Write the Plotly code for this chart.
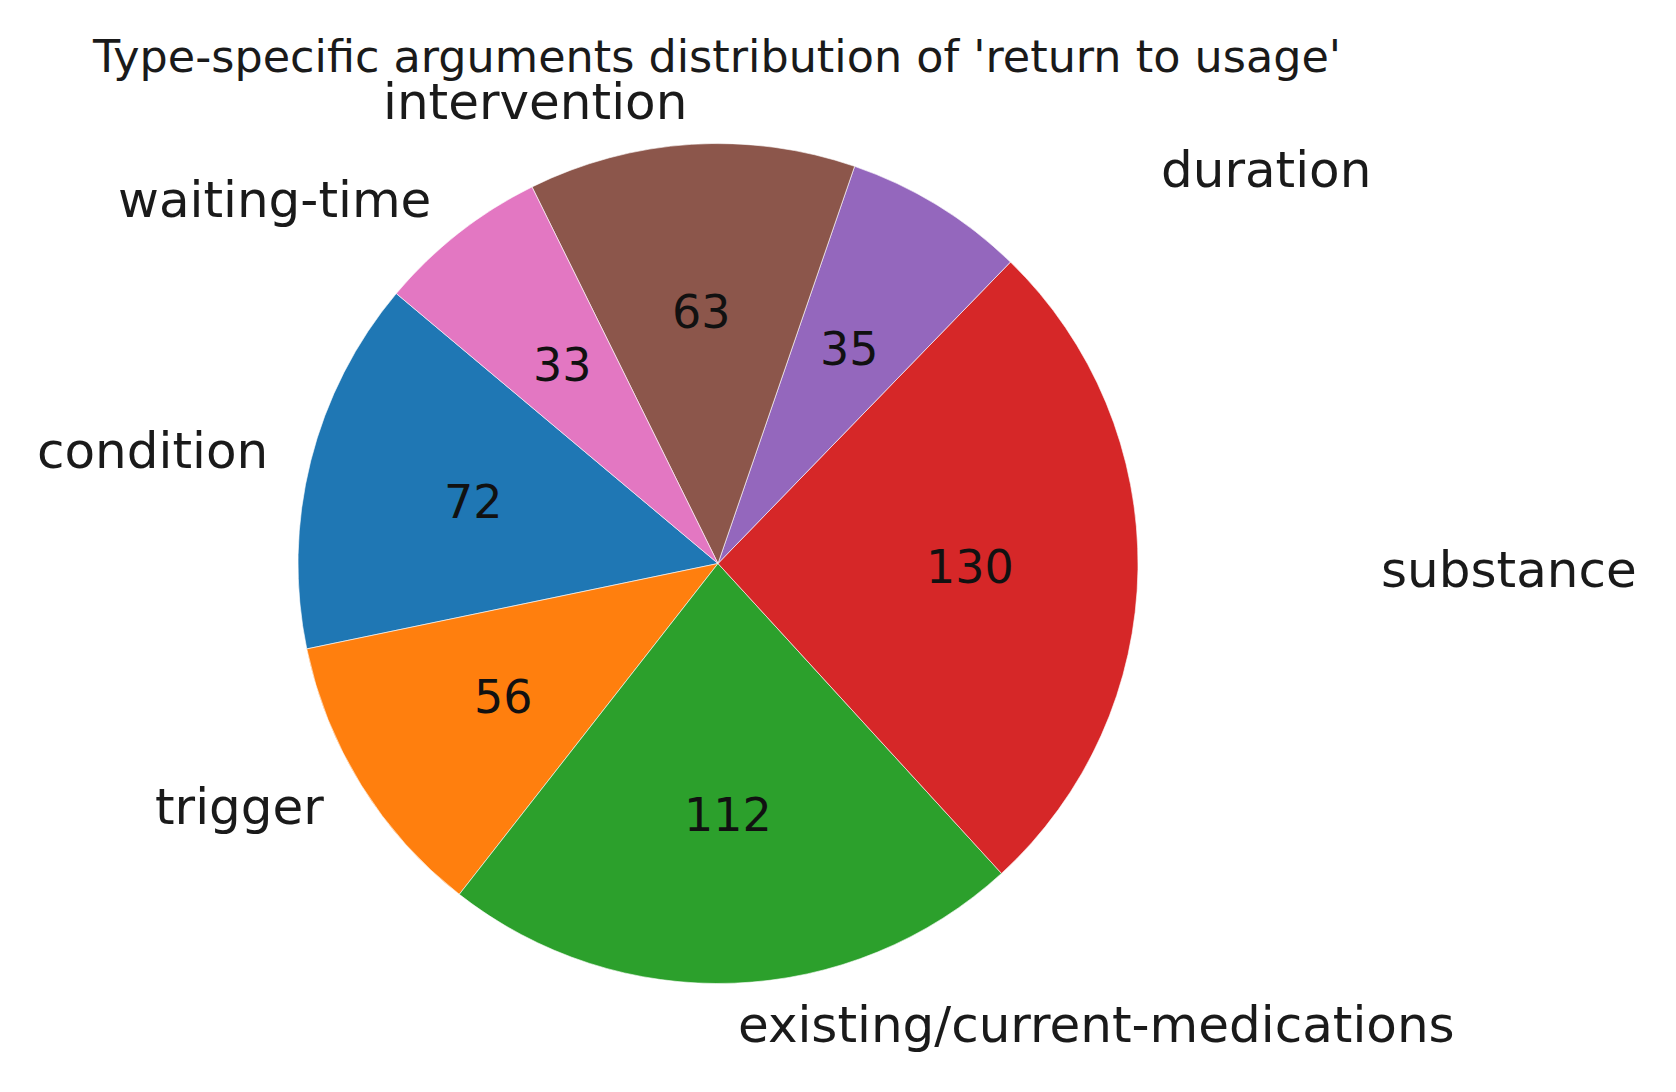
import math
import plotly.graph_objects as go

categories = ["condition", "trigger", "existing/current-medications", "substance",
              "duration", "intervention", "waiting-time"]
values = [72, 56, 112, 130, 35, 63, 33]
colors = ["#1f77b4", "#ff7f0e", "#2ca02c", "#d62728", "#9467bd", "#8c564b", "#e377c2"]
title_text = "Type-specific arguments distribution of 'return to usage'"

W, H = 1676, 1092
CX, CY = 718.0, 563.5      # pie centre in pixels (from top-left)
R = 420.0                  # pie radius in pixels
START_DEG = 140.0          # matplotlib-style start angle (CCW from 3 o'clock)
LABEL_DIST = 1.1
PCT_DIST = 0.6
RIGHT_SHIFT = 199          # right-hand labels are pushed outwards in the reference
FONT = "DejaVu Sans"

total = sum(values)
first_span = values[0] / total * 360.0
# plotly (counterclockwise): first slice occupies [rotation, rotation + span] clockwise from 12 o'clock
rotation = -(START_DEG - 90) - first_span

fig = go.Figure()
fig.add_trace(go.Pie(
    labels=categories,
    values=values,
    sort=False,
    direction="counterclockwise",
    rotation=rotation,
    marker=dict(colors=colors, line=dict(color="white", width=0.6)),
    textinfo="none",
    hoverinfo="label+value",
    showlegend=False,
    domain=dict(x=[(CX - R) / W, (CX + R) / W], y=[(H - CY - R) / H, (H - CY + R) / H]),
))

ann = []
cum = START_DEG
for cat, v in zip(categories, values):
    span = v / total * 360.0
    mid = math.radians(cum + span / 2)
    cum += span
    c, s = math.cos(mid), math.sin(mid)
    px = CX + PCT_DIST * R * c
    py = CY - PCT_DIST * R * s
    ann.append(dict(x=px / W, y=1 - py / H, xref="paper", yref="paper", text=str(v),
                    showarrow=False, xanchor="center", yanchor="middle",
                    font=dict(family=FONT, size=46, color="#111111")))
    lx = CX + LABEL_DIST * R * c
    ly = CY - LABEL_DIST * R * s
    if c > 0:
        xa = "left"
        if c > 0.3:
            lx += RIGHT_SHIFT
    else:
        xa = "right"
    ann.append(dict(x=lx / W, y=1 - ly / H, xref="paper", yref="paper", text=cat,
                    showarrow=False, xanchor=xa, yanchor="middle",
                    font=dict(family=FONT, size=50, color="#1a1a1a")))

ann.append(dict(x=716 / W, y=1 - 56 / H, xref="paper", yref="paper", text=title_text,
                showarrow=False, xanchor="center", yanchor="middle",
                font=dict(family=FONT, size=44.5, color="#1a1a1a")))

fig.update_layout(
    width=W, height=H,
    margin=dict(l=0, r=0, t=0, b=0),
    paper_bgcolor="white", plot_bgcolor="white",
    annotations=ann,
)
fig.write_html("out.html", config={"displayModeBar": False},
               post_script="document.body.style.margin='0';")
